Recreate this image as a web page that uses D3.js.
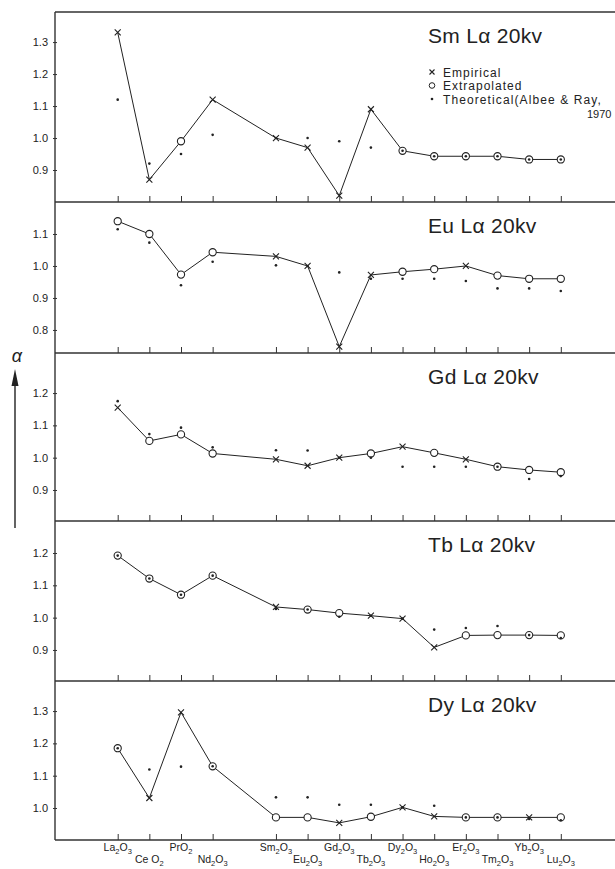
<!DOCTYPE html>
<html>
<head>
<meta charset="utf-8">
<script src="https://cdn.jsdelivr.net/npm/d3@7"></script>
<style>
  body { margin: 0; background: #fff; }
  svg { display: block; }
  text { font-family: "Liberation Sans", Arial, sans-serif; fill: #222; }
</style>
</head>
<body>
<svg id="chart" width="615" height="869"></svg>
<script>
// elements along the x axis (Pm skipped)
const atomicNumbers = [57, 58, 59, 60, 62, 63, 64, 65, 66, 67, 68, 69, 70, 71]
const oxideLabels = ['La2O3', 'Ce O2', 'PrO2', 'Nd2O3', 'Sm2O3', 'Eu2O3', 'Gd2O3',
  'Tb2O3', 'Dy2O3', 'Ho2O3', 'Er2O3', 'Tm2O3', 'Yb2O3', 'Lu2O3']

// x = empirical, o = extrapolated ; theo = theoretical (Albee & Ray, 1970)
const smType = ['x', 'x', 'o', 'x', 'x', 'x', 'x', 'x', 'o', 'o', 'o', 'o', 'o', 'o']
const smAlpha = [1.33, 0.87, 0.99, 1.12, 1.00, 0.97, 0.82, 1.09, 0.96, 0.943, 0.943, 0.943, 0.933, 0.933]
const smTheo = [1.12, 0.92, 0.95, 1.01, 1.00, 1.00, 0.99, 0.97, 0.96, 0.943, 0.943, 0.943, 0.933, 0.933]

const euType = ['o', 'o', 'o', 'o', 'x', 'x', 'x', 'x', 'o', 'o', 'x', 'o', 'o', 'o']
const euAlpha = [1.14, 1.10, 0.973, 1.043, 1.03, 1.00, 0.748, 0.972, 0.982, 0.99, 1.00, 0.97, 0.96, 0.96]
const euTheo = [1.115, 1.073, 0.94, 1.013, 1.002, 1.00, 0.98, 0.96, 0.96, 0.96, 0.953, 0.93, 0.93, 0.922]

const gdType = ['x', 'o', 'o', 'o', 'x', 'x', 'x', 'o', 'x', 'o', 'x', 'o', 'o', 'o']
const gdAlpha = [1.155, 1.052, 1.072, 1.013, 0.995, 0.975, 1.00, 1.013, 1.034, 1.015, 0.995, 0.972, 0.962, 0.955]
const gdTheo = [1.175, 1.073, 1.093, 1.032, 1.023, 1.022, 1.00, 1.00, 0.972, 0.972, 0.972, 0.972, 0.934, 0.943]

const tbType = ['o', 'o', 'o', 'o', 'x', 'o', 'o', 'x', 'x', 'x', 'o', 'o', 'o', 'o']
const tbAlpha = [1.192, 1.121, 1.071, 1.13, 1.033, 1.025, 1.014, 1.006, 0.997, 0.908, 0.945, 0.946, 0.946, 0.945]
const tbTheo = [1.192, 1.121, 1.071, 1.13, 1.027, 1.025, 1.003, 1.006, 0.997, 0.963, 0.968, 0.974, 0.946, 0.937]

const dyType = ['o', 'x', 'x', 'o', 'o', 'o', 'x', 'o', 'x', 'x', 'o', 'o', 'x', 'o']
const dyAlpha = [1.185, 1.031, 1.296, 1.129, 0.971, 0.971, 0.954, 0.973, 1.002, 0.974, 0.971, 0.971, 0.971, 0.971]
const dyTheo = [1.185, 1.119, 1.128, 1.129, 1.033, 1.033, 1.01, 1.01, 1.002, 1.007, 0.971, 0.971, 0.966, 0.962]

const smTicks = [0.9, 1.0, 1.1, 1.2, 1.3]
const euTicks = [0.8, 0.9, 1.0, 1.1]
const gdTicks = [0.9, 1.0, 1.1, 1.2]
const tbTicks = [0.9, 1.0, 1.1, 1.2]
const dyTicks = [1.0, 1.1, 1.2, 1.3]

const legendLabels = ['Empirical', 'Extrapolated', 'Theoretical(Albee & Ray,']

const svg = d3.select('#chart')
const left = 55, right = 615

const x = d3.scaleLinear().domain([57, 71]).range([117.7, 560.8])

const panels = [
  { title: 'Sm Lα 20kv', type: smType, alpha: smAlpha, theo: smTheo, ticks: smTicks, top: 12, bottom: 202, domain: [0.80, 1.394] },
  { title: 'Eu Lα 20kv', type: euType, alpha: euAlpha, theo: euTheo, ticks: euTicks, top: 202, bottom: 353, domain: [0.728, 1.2] },
  { title: 'Gd Lα 20kv', type: gdType, alpha: gdAlpha, theo: gdTheo, ticks: gdTicks, top: 353, bottom: 521, domain: [0.804, 1.324] },
  { title: 'Tb Lα 20kv', type: tbType, alpha: tbAlpha, theo: tbTheo, ticks: tbTicks, top: 521, bottom: 681, domain: [0.804, 1.299] },
  { title: 'Dy Lα 20kv', type: dyType, alpha: dyAlpha, theo: dyTheo, ticks: dyTicks, top: 681, bottom: 840, domain: [0.901, 1.393] }
]

// frame: top line and left axis
svg.append('line').attr('x1', left).attr('x2', right).attr('y1', 12).attr('y2', 12)
  .attr('stroke', '#333').attr('stroke-width', 1.4)
svg.append('line').attr('x1', left).attr('x2', left).attr('y1', 12).attr('y2', 840)
  .attr('stroke', '#333').attr('stroke-width', 1.4)

panels.forEach(p => {
  const y = d3.scaleLinear().domain(p.domain).range([p.bottom, p.top])
  const g = svg.append('g')
  const pts = atomicNumbers.map((z, i) => ({ z, v: p.alpha[i], t: p.theo[i], type: p.type[i] }))

  // bottom line with upward ticks
  g.append('line').attr('x1', left).attr('x2', right).attr('y1', p.bottom).attr('y2', p.bottom)
    .attr('stroke', '#333').attr('stroke-width', 1.4)
  const xAxis = d3.axisBottom(x).tickValues(atomicNumbers).tickSize(-6).tickFormat('')
  g.append('g').attr('transform', `translate(0,${p.bottom})`).call(xAxis)
    .call(a => a.select('.domain').remove())
    .selectAll('line').attr('stroke', '#333')

  const yAxis = d3.axisLeft(y).tickValues(p.ticks).tickSize(4).tickPadding(5).tickFormat(d3.format('.1f'))
  g.append('g').attr('transform', `translate(${left + 2},0)`).call(yAxis)
    .call(a => a.select('.domain').remove())
    .call(a => a.selectAll('line').attr('stroke', '#333'))
    .call(a => a.selectAll('text').attr('font-size', 11).attr('fill', '#222')
      .attr('font-family', '"Liberation Sans", Arial, sans-serif'))

  const line = d3.line().x(d => x(d.z)).y(d => y(d.v))
  g.append('path').datum(pts).attr('d', line)
    .attr('fill', 'none').attr('stroke', '#222').attr('stroke-width', 1)

  g.selectAll('circle.ext').data(pts.filter(d => d.type === 'o')).enter()
    .append('circle').attr('class', 'ext')
    .attr('cx', d => x(d.z)).attr('cy', d => y(d.v)).attr('r', 3.6)
    .attr('fill', '#fff').attr('stroke', '#222').attr('stroke-width', 1.1)

  g.selectAll('path.emp').data(pts.filter(d => d.type === 'x')).enter()
    .append('path').attr('class', 'emp')
    .attr('transform', d => `translate(${x(d.z)},${y(d.v)})`)
    .attr('d', 'M-3,-3L3,3M-3,3L3,-3')
    .attr('stroke', '#222').attr('stroke-width', 1.1)

  g.selectAll('circle.theo').data(pts.filter(d => d.t != null)).enter()
    .append('circle').attr('class', 'theo')
    .attr('cx', d => x(d.z)).attr('cy', d => y(d.t)).attr('r', 1.3)
    .attr('fill', '#222')

  g.append('text').attr('x', 428).attr('y', p.top + 31)
    .attr('font-size', 21).attr('letter-spacing', 0.3).text(p.title)
})

// legend in the Sm panel
const legend = svg.append('g')
legendLabels.forEach((lab, i) => {
  const cy = 72 + i * 13.5
  if (i === 0) legend.append('path').attr('transform', `translate(432,${cy})`)
    .attr('d', 'M-2.5,-2.5L2.5,2.5M-2.5,2.5L2.5,-2.5').attr('stroke', '#222').attr('stroke-width', 1.1)
  if (i === 1) legend.append('circle').attr('cx', 432).attr('cy', cy).attr('r', 2.8)
    .attr('fill', 'none').attr('stroke', '#222').attr('stroke-width', 1)
  if (i === 2) legend.append('circle').attr('cx', 432).attr('cy', cy).attr('r', 1.3).attr('fill', '#222')
  legend.append('text').attr('x', 443).attr('y', cy + 4.5)
    .attr('font-size', 12).attr('letter-spacing', i === 2 ? 1.1 : 1).text(lab)
})
legend.append('text').attr('x', 587).attr('y', 118)
  .attr('font-size', 11).text('1970')

// x labels with subscripts, alternating rows
oxideLabels.forEach((lab, i) => {
  const t = svg.append('text').attr('x', x(atomicNumbers[i])).attr('y', i % 2 === 0 ? 851 : 863)
    .attr('text-anchor', 'middle').attr('font-size', 10.5)
  let sub = false
  lab.split(/(\d)/).filter(s => s !== '').forEach(s => {
    const isDigit = /\d/.test(s)
    const ts = t.append('tspan').text(s)
    if (isDigit) { ts.attr('font-size', 7.5).attr('dy', sub ? 0 : 2.5); sub = true }
    else { ts.attr('dy', sub ? -2.5 : 0); sub = false }
  })
})

// alpha arrow
svg.append('line').attr('x1', 15).attr('x2', 15).attr('y1', 528).attr('y2', 382)
  .attr('stroke', '#222').attr('stroke-width', 1.4)
svg.append('path').attr('d', 'M15,369L11.5,386L18.5,386Z').attr('fill', '#222')
svg.append('text').attr('x', 17).attr('y', 362).attr('text-anchor', 'middle')
  .attr('font-size', 18).attr('font-style', 'italic').text('α')
</script>
</body>
</html>
